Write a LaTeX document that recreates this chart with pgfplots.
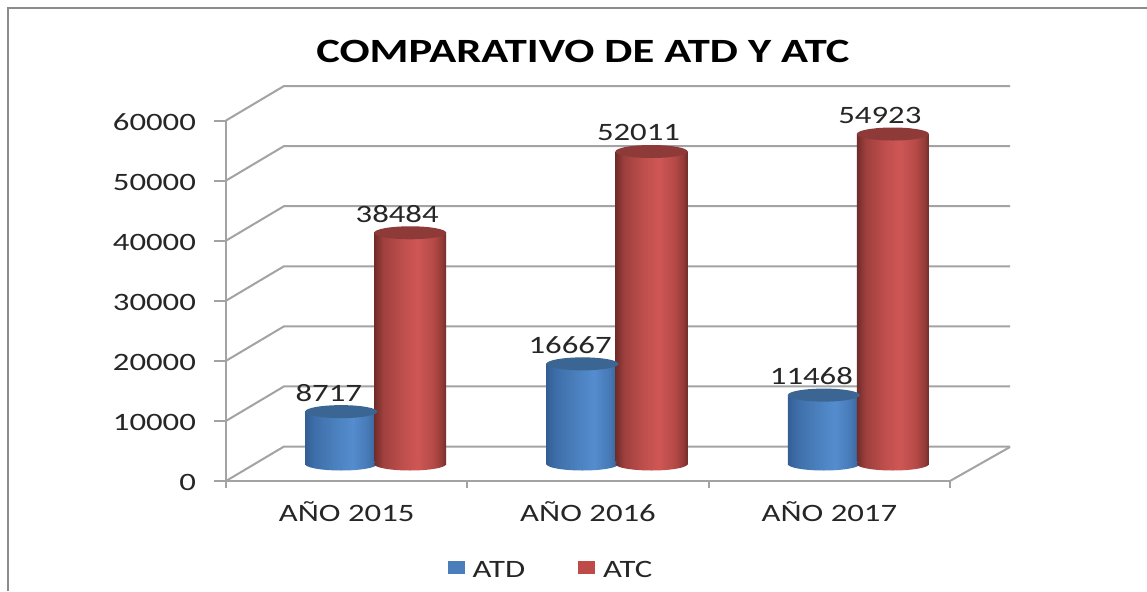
\documentclass[border=0pt]{standalone}
\usepackage{pgfplots}
\usepackage{fontspec}
\pgfplotsset{compat=1.18}
\setmainfont{Carlito}
\newfontfamily\wide[FakeStretch=1.31]{Carlito}
\newfontfamily\widebold[FakeStretch=1.31]{Carlito Bold}
\definecolor{gridc}{HTML}{A3A3A3}
\definecolor{txt}{HTML}{262626}
\definecolor{bluetop}{HTML}{3B6593}
\definecolor{redtop}{HTML}{8E3A38}
\definecolor{legblue}{HTML}{4A7EBB}
\definecolor{legred}{HTML}{BE4B48}
\pgfdeclarehorizontalshading{cylblue}{100bp}{
 rgb(0bp)=(0.20,0.37,0.58);
 rgb(25bp)=(0.20,0.37,0.58); rgb(31bp)=(0.24,0.43,0.66); rgb(45bp)=(0.29,0.50,0.74);
 rgb(58bp)=(0.33,0.55,0.81); rgb(68bp)=(0.28,0.48,0.72); rgb(75bp)=(0.22,0.39,0.60); rgb(100bp)=(0.22,0.39,0.60)}
\pgfdeclarehorizontalshading{cylred}{100bp}{
 rgb(0bp)=(0.44,0.17,0.16);
 rgb(25bp)=(0.44,0.17,0.16); rgb(31bp)=(0.62,0.25,0.24); rgb(45bp)=(0.75,0.31,0.30);
 rgb(55bp)=(0.81,0.34,0.33); rgb(66bp)=(0.71,0.29,0.28); rgb(72bp)=(0.58,0.23,0.22); rgb(75bp)=(0.45,0.18,0.17); rgb(100bp)=(0.45,0.18,0.17)}
\pgfdeclareplotmark{bluebase}{\path[draw=none,shade,shading=cylblue,rotate=4] (0pt,0pt) ellipse (18pt and 3.25pt);}
\pgfdeclareplotmark{redbase}{\path[draw=none,shade,shading=cylred,rotate=4] (0pt,0pt) ellipse (18pt and 3.25pt);}
\pgfdeclareplotmark{bluetop}{\path[draw=none,fill=bluetop,rotate=4] (0pt,0pt) ellipse (18pt and 3.25pt);}
\pgfdeclareplotmark{redtop}{\path[draw=none,fill=redtop,rotate=4] (0pt,0pt) ellipse (18pt and 3.25pt);}
\pgfplotsset{
  cylbar/.style={ybar,bar width=36pt,bar shift=0pt,draw=none,shade,shading=#1,xshift=14.5pt,yshift=8.5pt},
  cylmark/.style={forget plot,only marks,mark=#1,mark options={xshift=14.5pt,yshift=8.5pt}},
}
\begin{document}
\begin{tikzpicture}[x=0.5pt,y=0.5pt]
\useasboundingbox (0,0) rectangle (1147,591);
\fill[white] (0,0) rectangle (1147,591);
\draw[gray!90,line width=0.8pt] (8,0) -- (8,583) -- (1147,583);
\begin{axis}[
  at={(113pt,55pt)},anchor=south west,
  scale only axis,width=362pt,height=180.25pt,
  clip=false,
  xmin=-0.5,xmax=2.5,ymin=0,ymax=60000,
  axis lines=left,
  axis line style={-,draw=gridc,line width=1pt},
  ytick={0,10000,20000,30000,40000,50000,60000},
  xtick={0,1,2},
  xticklabels={AÑO 2015,AÑO 2016,AÑO 2017},
  minor xtick={-0.5,0.5,1.5,2.5},
  tick align=outside,
  major tick length=6pt,
  minor tick length=3.5pt,
  major x tick style={draw=none},
  minor x tick style={draw=gridc,line width=1pt},
  major y tick style={draw=gridc,line width=1pt},
  scaled y ticks=false,
  /pgf/number format/.cd,assume math mode=true,1000 sep={},
  /pgfplots/.cd,
  tick label style={font=\wide\fontsize{12.5}{14}\selectfont,text=txt},
  yticklabel style={xshift=-5.5pt,yshift=-0.7pt},
  xticklabel style={yshift=-1pt},
  title={COMPARATIVO DE ATD Y ATC},
  title style={at={(0.493,1.157)},anchor=center,font=\widebold\fontsize{17}{20}\selectfont,text=black},
  legend style={at={(0.4503,-0.2493)},anchor=center,draw=none,fill=none,
    font=\wide\fontsize{12.5}{14}\selectfont,text=txt,
    legend columns=2,/tikz/every even column/.append style={column sep=24.5pt},
    /tikz/every odd column/.append style={column sep=2pt}},
  nodes near coords style={font=\wide\fontsize{12.5}{14}\selectfont,text=txt,anchor=center},
]
\pgfplotsinvokeforeach{0,1,2,3,4,5,6}{
  \draw[gridc,line width=1pt] (axis cs:-0.5,#1*10000) -- ++(29pt,17.25pt) -- ++(363pt,0pt);
}
\draw[gridc,line width=1pt] (axis cs:2.5,0) -- ++(30pt,17pt);
% ATD
\addplot[cylmark=bluebase] coordinates {(-0.143,0)(0.857,0)(1.857,0)};
\addplot[cylbar=cylblue,
  legend image code/.code={\path[shade=false,fill=legblue,draw=none] (0pt,-10.2pt) rectangle (8.5pt,-3.8pt);}]
  coordinates {(-0.143,8717)};
\addlegendentry{ATD}
\addplot[cylbar=cylblue,forget plot] coordinates {(0.857,16667)};
\addplot[cylbar=cylblue,forget plot] coordinates {(1.857,11468)};
\addplot[cylmark=bluetop,
  nodes near coords,every node near coord/.append style={xshift=-6.2pt,yshift=9.3pt}]
  coordinates {(-0.143,8717)(0.857,16667)(1.857,11468)};
% ATC
\addplot[cylmark=redbase] coordinates {(0.143,0)(1.143,0)(2.143,0)};
\addplot[cylbar=cylred,
  legend image code/.code={\path[shade=false,fill=legred,draw=none] (0pt,-10.2pt) rectangle (8.5pt,-3.8pt);}]
  coordinates {(0.143,38484)};
\addlegendentry{ATC}
\addplot[cylbar=cylred,forget plot] coordinates {(1.143,52011)};
\addplot[cylbar=cylred,forget plot] coordinates {(2.143,54923)};
\addplot[cylmark=redtop,
  nodes near coords,every node near coord/.append style={xshift=-6.5pt,yshift=9.3pt}]
  coordinates {(0.143,38484)(1.143,52011)(2.143,54923)};
\end{axis}
\end{tikzpicture}
\end{document}
